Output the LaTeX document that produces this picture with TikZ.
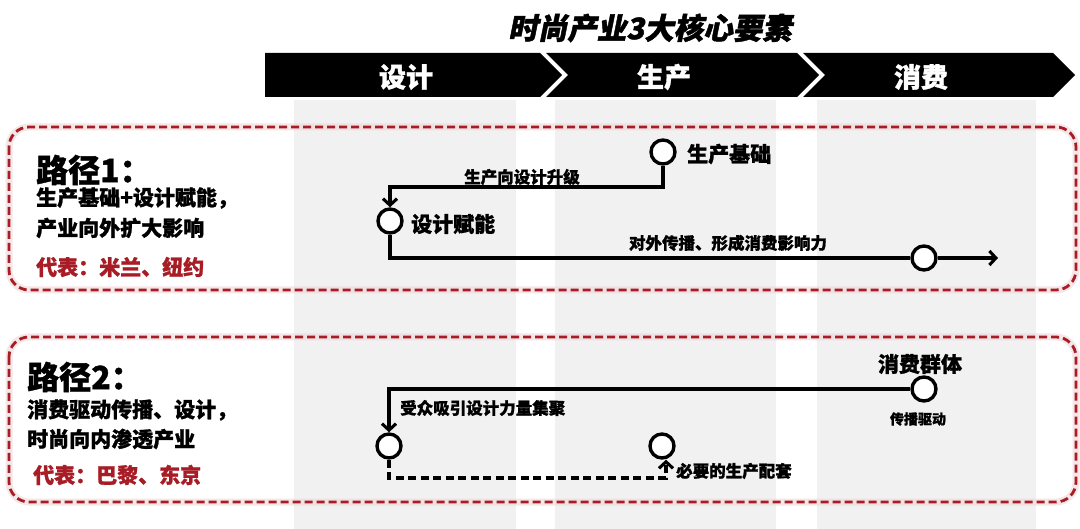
\documentclass[tikz,border=0pt]{standalone}
\usepackage{fontspec}
\setmainfont{Noto Sans CJK SC}[BoldFeatures={FakeBold=1.2}]
\newfontfamily\titlefont{Noto Sans CJK SC}[FakeSlant=0.2,BoldFeatures={FakeBold=1.5}]
\usetikzlibrary{arrows.meta}
\definecolor{boxred}{RGB}{168,28,38}
\definecolor{colgray}{RGB}{241,241,241}
\tikzset{
  circ/.style={circle,draw=black,fill=white,line width=3.4pt,minimum size=24pt,inner sep=0pt},
  conn/.style={line width=3.1pt,draw=black},
  tip/.style={-{Straight Barb[length=6.5pt,width=14pt]}},
  dconn/.style={conn,dash pattern=on 8pt off 4.5pt},
  redbox/.style={draw=boxred,line width=2.8pt,rounded corners=20pt,dash pattern=on 8pt off 4pt},
  glowbox/.style={draw=boxred!18,line width=7pt,rounded corners=20pt},
  band/.style={fill=black},
  bandtxt/.style={text=white,font=\bfseries\fontsize{27}{30}\selectfont},
  lbl/.style={font=\bfseries\fontsize{21}{24}\selectfont,anchor=west,inner sep=0pt},
  small/.style={font=\bfseries\fontsize{16.5}{19}\selectfont,inner sep=0pt},
  head/.style={font=\bfseries\fontsize{32}{36}\selectfont,anchor=west,inner sep=0pt},
  red/.style={text=boxred}
}
\begin{document}
\begin{tikzpicture}[x=1pt,y=-1pt]
\useasboundingbox[fill=white] (0,0) rectangle (1080,529);
% gray columns
\fill[colgray] (294,100) rectangle (516,529);
\fill[colgray] (555,100) rectangle (776,529);
\fill[colgray] (817,100) rectangle (1036,529);
% title
\node[font=\titlefont\bfseries\fontsize{29.5}{33}\selectfont,inner sep=0pt] (title) at (650,28) {时尚产业3大核心要素};
% banner
\fill[band] (265,53) -- (540,53) -- (562,75) -- (540,97) -- (265,97) -- cycle;
\fill[band] (546,53) -- (797,53) -- (819,75) -- (797,97) -- (546,97) -- (568,75) -- cycle;
\fill[band] (803,53) -- (1053,53) -- (1075,75) -- (1053,97) -- (803,97) -- (825,75) -- cycle;
\node[bandtxt] (b1) at (406,77) {设计};
\node[bandtxt] (b2) at (664,77) {生产};
\node[bandtxt] (b3) at (921,77) {消费};
% red boxes
\draw[glowbox,opacity=0.6] (9,127) rectangle (1076,290);
\draw[redbox] (9,127) rectangle (1076,290);
\draw[glowbox,opacity=0.6] (9,337) rectangle (1076,502);
\draw[redbox] (9,337) rectangle (1076,502);
% box 1 text
\node[head] (h1) at (36,170) {路径1：};
\node[lbl] (h1a) at (36,198) {生产基础+设计赋能，};
\node[lbl] (h1b) at (36,228) {产业向外扩大影响};
\node[lbl,red] (h1c) at (36,267) {代表：米兰、纽约};
% box 2 text
\node[head] (h2) at (27,377) {路径2：};
\node[lbl] (h2a) at (27,410) {消费驱动传播、设计，};
\node[lbl] (h2b) at (27,439) {时尚向内渗透产业};
\node[lbl,red] (h2c) at (33,475) {代表：巴黎、东京};
% path 1
\node[circ] (pb) at (663,152) {};
\node[lbl,anchor=west] (pbl) at (687,154) {生产基础};
\node[circ] (sj) at (390,221) {};
\node[lbl,anchor=west] (sjl) at (411,224) {设计赋能};
\node[circ] (xf) at (924,258) {};
\coordinate (t1) at (663,187);
\coordinate (end1) at (998,258);
\draw[conn,tip] (pb) -- (t1) -| (sj);
\draw[conn] (sj) |- (xf);
\draw[conn,tip] (xf) -- (end1);
\node[small] (l1) at (522,177) {生产向设计升级};
\node[small] (l2) at (728,243) {对外传播、形成消费影响力};
% path 2
\node[circ] (cg) at (924,389) {};
\node[lbl,anchor=center] (cgl) at (920,364) {消费群体};
\node[font=\bfseries\fontsize{14}{16}\selectfont,inner sep=0pt] (cgs) at (918,419) {传播驱动};
\node[circ] (sj2) at (389,446) {};
\node[circ] (sc) at (662,446) {};
\coordinate (d2) at (666,478);
\draw[conn,tip] (cg) -| (sj2);
\draw[dconn,tip] (sj2) |- (d2) -- (sc.south -| d2);
\node[small,anchor=west] (l3) at (400,408) {受众吸引设计力量集聚};
\node[small,anchor=west] (l4) at (676,471) {必要的生产配套};
\end{tikzpicture}
\end{document}
